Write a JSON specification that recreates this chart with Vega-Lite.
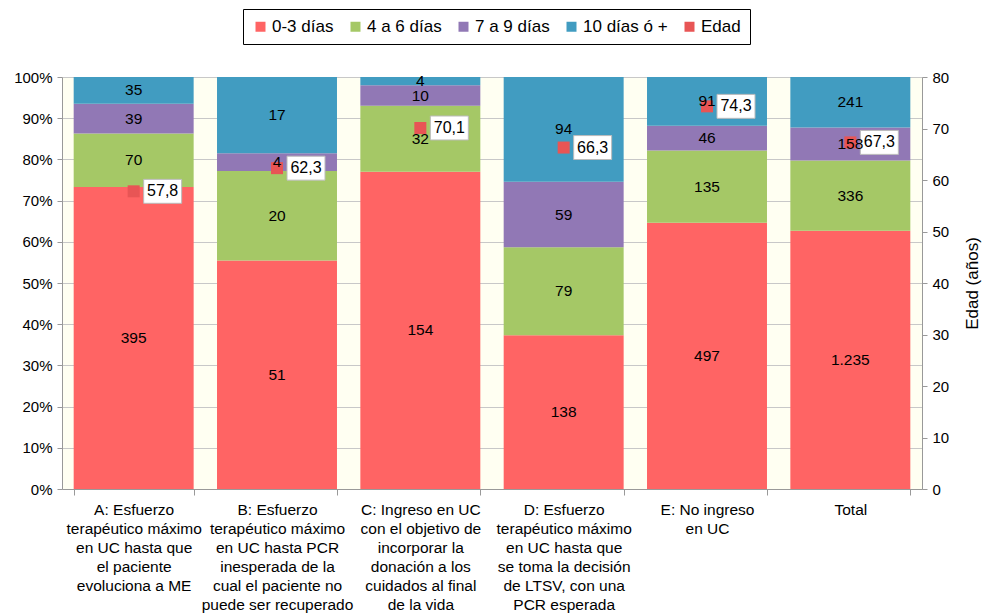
{
  "$schema": "https://vega.github.io/schema/vega-lite/v6.json",
  "width": 860,
  "height": 412,
  "autosize": {"type": "none"},
  "padding": {"left": 62, "top": 77, "right": 65, "bottom": 126},
  "config": {
    "font": "Liberation Sans",
    "locale": {"number": {"decimal": ",", "thousands": ".", "grouping": [3], "currency": ["", " €"]}},
    "view": {"stroke": null}
  },
  "view": {"fill": "#FFFFF2", "stroke": null},
  "datasets": {
    "counts": [
      {"cat": "A: Esfuerzo|terapéutico máximo|en UC hasta que|el paciente|evoluciona a ME", "grupo": "0-3 días", "orden": 1, "n": 395},
      {"cat": "A: Esfuerzo|terapéutico máximo|en UC hasta que|el paciente|evoluciona a ME", "grupo": "4 a 6 días", "orden": 2, "n": 70},
      {"cat": "A: Esfuerzo|terapéutico máximo|en UC hasta que|el paciente|evoluciona a ME", "grupo": "7 a 9 días", "orden": 3, "n": 39},
      {"cat": "A: Esfuerzo|terapéutico máximo|en UC hasta que|el paciente|evoluciona a ME", "grupo": "10 días ó +", "orden": 4, "n": 35},
      {"cat": "B: Esfuerzo|terapéutico máximo|en UC hasta PCR|inesperada de la|cual el paciente no|puede ser recuperado", "grupo": "0-3 días", "orden": 1, "n": 51},
      {"cat": "B: Esfuerzo|terapéutico máximo|en UC hasta PCR|inesperada de la|cual el paciente no|puede ser recuperado", "grupo": "4 a 6 días", "orden": 2, "n": 20},
      {"cat": "B: Esfuerzo|terapéutico máximo|en UC hasta PCR|inesperada de la|cual el paciente no|puede ser recuperado", "grupo": "7 a 9 días", "orden": 3, "n": 4},
      {"cat": "B: Esfuerzo|terapéutico máximo|en UC hasta PCR|inesperada de la|cual el paciente no|puede ser recuperado", "grupo": "10 días ó +", "orden": 4, "n": 17},
      {"cat": "C: Ingreso en UC|con el objetivo de|incorporar la|donación a los|cuidados al final|de la vida", "grupo": "0-3 días", "orden": 1, "n": 154},
      {"cat": "C: Ingreso en UC|con el objetivo de|incorporar la|donación a los|cuidados al final|de la vida", "grupo": "4 a 6 días", "orden": 2, "n": 32},
      {"cat": "C: Ingreso en UC|con el objetivo de|incorporar la|donación a los|cuidados al final|de la vida", "grupo": "7 a 9 días", "orden": 3, "n": 10},
      {"cat": "C: Ingreso en UC|con el objetivo de|incorporar la|donación a los|cuidados al final|de la vida", "grupo": "10 días ó +", "orden": 4, "n": 4},
      {"cat": "D: Esfuerzo|terapéutico máximo|en UC hasta que|se toma la decisión|de LTSV, con una|PCR esperada", "grupo": "0-3 días", "orden": 1, "n": 138},
      {"cat": "D: Esfuerzo|terapéutico máximo|en UC hasta que|se toma la decisión|de LTSV, con una|PCR esperada", "grupo": "4 a 6 días", "orden": 2, "n": 79},
      {"cat": "D: Esfuerzo|terapéutico máximo|en UC hasta que|se toma la decisión|de LTSV, con una|PCR esperada", "grupo": "7 a 9 días", "orden": 3, "n": 59},
      {"cat": "D: Esfuerzo|terapéutico máximo|en UC hasta que|se toma la decisión|de LTSV, con una|PCR esperada", "grupo": "10 días ó +", "orden": 4, "n": 94},
      {"cat": "E: No ingreso|en UC", "grupo": "0-3 días", "orden": 1, "n": 497},
      {"cat": "E: No ingreso|en UC", "grupo": "4 a 6 días", "orden": 2, "n": 135},
      {"cat": "E: No ingreso|en UC", "grupo": "7 a 9 días", "orden": 3, "n": 46},
      {"cat": "E: No ingreso|en UC", "grupo": "10 días ó +", "orden": 4, "n": 91},
      {"cat": "Total", "grupo": "0-3 días", "orden": 1, "n": 1235},
      {"cat": "Total", "grupo": "4 a 6 días", "orden": 2, "n": 336},
      {"cat": "Total", "grupo": "7 a 9 días", "orden": 3, "n": 158},
      {"cat": "Total", "grupo": "10 días ó +", "orden": 4, "n": 241}
    ],
    "edad": [
      {"cat": "A: Esfuerzo|terapéutico máximo|en UC hasta que|el paciente|evoluciona a ME", "edad": 57.8},
      {"cat": "B: Esfuerzo|terapéutico máximo|en UC hasta PCR|inesperada de la|cual el paciente no|puede ser recuperado", "edad": 62.3},
      {"cat": "C: Ingreso en UC|con el objetivo de|incorporar la|donación a los|cuidados al final|de la vida", "edad": 70.1},
      {"cat": "D: Esfuerzo|terapéutico máximo|en UC hasta que|se toma la decisión|de LTSV, con una|PCR esperada", "edad": 66.3},
      {"cat": "E: No ingreso|en UC", "edad": 74.3},
      {"cat": "Total", "edad": 67.3}
    ]
  },
  "encoding": {
    "x": {
      "field": "cat",
      "type": "nominal",
      "sort": null,
      "title": null,
      "scale": {"paddingInner": 0.163, "paddingOuter": 0.0815},
      "axis": {
        "labelExpr": "split(datum.label, '|')",
        "labelAngle": 0,
        "labelFontSize": 15.5,
        "labelLineHeight": 19,
        "labelColor": "#000000",
        "labelPadding": 7,
        "labelOverlap": false,
        "labelBound": false,
        "labelLimit": 0,
        "tickBand": "extent",
        "tickSize": 6,
        "tickColor": "#999999",
        "domainColor": "#999999",
        "labelBaseline": "top"
      }
    }
  },
  "layer": [
    {
      "data": {"name": "counts"},
      "transform": [
        {"stack": "n", "groupby": ["cat"], "sort": [{"field": "orden", "order": "ascending"}], "offset": "normalize", "as": ["y0", "y1"]}
      ],
      "mark": {"type": "bar"},
      "encoding": {
        "y": {
          "field": "y1",
          "type": "quantitative",
          "scale": {"domain": [0, 1], "nice": false},
          "axis": {
            "title": null,
            "format": ".0%",
            "values": [0, 0.1, 0.2, 0.3, 0.4, 0.5, 0.6, 0.7, 0.8, 0.9, 1],
            "grid": true,
            "gridColor": "#C8C8C8",
            "gridWidth": 1,
            "domainColor": "#999999",
            "tickColor": "#999999",
            "tickSize": 5,
            "labelFontSize": 15,
            "labelColor": "#000000",
            "labelPadding": 5
          }
        },
        "y2": {"field": "y0"},
        "color": {
          "field": "grupo",
          "type": "nominal",
          "scale": {
            "domain": ["0-3 días", "4 a 6 días", "7 a 9 días", "10 días ó +", "Edad"],
            "range": ["#FF6464", "#A5C866", "#9178B5", "#419CC1", "#E85555"]
          },
          "legend": {
            "title": null,
            "orient": "none",
            "direction": "horizontal",
            "legendX": 181,
            "legendY": -68,
            "symbolType": "square",
            "symbolSize": 100,
            "labelFontSize": 17,
            "labelColor": "#000000",
            "labelOffset": 3,
            "columnPadding": 13,
            "padding": 9,
            "strokeColor": "#000000",
            "fillColor": "#FFFFFF",
            "symbolStrokeWidth": 0
          }
        }
      }
    },
    {
      "data": {"name": "edad"},
      "encoding": {
        "y": {
          "field": "edad",
          "type": "quantitative",
          "scale": {"domain": [0, 80], "nice": false},
          "axis": {
            "orient": "right",
            "title": "Edad (años)",
            "titleFontSize": 17,
            "titleFontWeight": "normal",
            "titleColor": "#000000",
            "titleAngle": 270,
            "titleBaseline": "top",
            "titlePadding": 16,
            "values": [0, 10, 20, 30, 40, 50, 60, 70, 80],
            "grid": false,
            "domainColor": "#999999",
            "tickColor": "#999999",
            "tickSize": 5,
            "labelFontSize": 15,
            "labelColor": "#000000",
            "labelPadding": 5
          }
        }
      },
      "layer": [
        {
          "mark": {"type": "point", "shape": "square", "filled": true, "size": 144, "opacity": 1},
          "encoding": {
            "color": {"datum": "Edad", "type": "nominal"}
          }
        },
        {
          "mark": {
            "type": "point",
            "shape": "M-1,-0.63L1,-0.63L1,0.63L-1,0.63Z",
            "size": 1444,
            "filled": true,
            "fill": "#FFFFFF",
            "stroke": "#BBBBBB",
            "strokeWidth": 1,
            "opacity": 1,
            "xOffset": 29
          }
        },
        {
          "mark": {"type": "text", "fontSize": 16, "color": "#000000", "align": "center", "baseline": "middle", "dx": 29},
          "encoding": {
            "text": {"field": "edad", "type": "quantitative", "format": ".1f"}
          }
        }
      ]
    },
    {
      "data": {"name": "counts"},
      "transform": [
        {"stack": "n", "groupby": ["cat"], "sort": [{"field": "orden", "order": "ascending"}], "offset": "normalize", "as": ["y0", "y1"]},
        {"calculate": "(datum.y0 + datum.y1) / 2", "as": "mid"}
      ],
      "mark": {"type": "text", "fontSize": 15.5, "color": "#000000", "baseline": "middle", "align": "center"},
      "encoding": {
        "y": {"field": "mid", "type": "quantitative", "scale": {"domain": [0, 1], "nice": false}, "axis": null},
        "text": {"field": "n", "type": "quantitative", "format": ",d"}
      }
    }
  ],
  "resolve": {"scale": {"y": "independent"}, "axis": {"y": "independent"}}
}
